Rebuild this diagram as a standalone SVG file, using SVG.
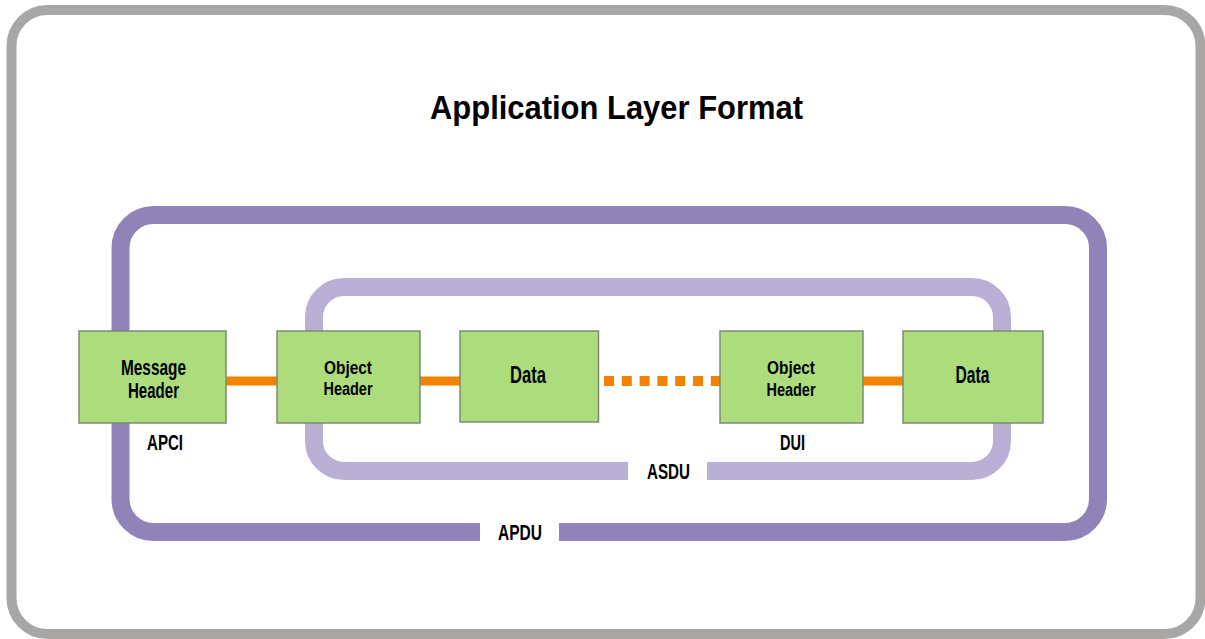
<svg xmlns="http://www.w3.org/2000/svg" width="1205" height="639" viewBox="0 0 1205 639">
<style>
.frame{fill:#ffffff;stroke:#a9a7a5;stroke-width:10}
.apdu{fill:none;stroke:#8f83b8;stroke-width:18}
.asdu{fill:none;stroke:#bab0d6;stroke-width:18}
.box{fill:#acdc7c;stroke:#7d8a72;stroke-width:1.5}
.conn{stroke:#f38200;stroke-width:9;fill:none}
.dots{stroke:#f38200;stroke-width:10;fill:none;stroke-dasharray:10 7.8}
text{font-family:"Liberation Sans",Arial,sans-serif;font-weight:bold;fill:#000;text-anchor:middle}
.t{font-size:22px}
.oh{font-size:19px}
.title{font-size:34px}
</style>
<rect class="frame" x="11.5" y="10" width="1189" height="624" rx="36"/>
<text class="title" x="616.5" y="119" textLength="373" lengthAdjust="spacingAndGlyphs">Application Layer Format</text>
<g id="apdu-frame">
<path class="apdu" d="M480,532 H153 A33,33 0 0 1 120.5,499 V248 A33,33 0 0 1 153,215 H1065 A33,33 0 0 1 1098,248 V499 A33,33 0 0 1 1065,532 H559"/>
<text class="t" x="520" y="540" textLength="44" lengthAdjust="spacingAndGlyphs">APDU</text>
</g>
<g id="asdu-frame">
<path class="asdu" d="M628,471 H344 A30,30 0 0 1 314,441 V317 A30,30 0 0 1 344,287 H972 A30,30 0 0 1 1002,317 V441 A30,30 0 0 1 972,471 H707"/>
<text class="t" x="668.5" y="479" textLength="43" lengthAdjust="spacingAndGlyphs">ASDU</text>
</g>
<g id="connectors">
<line class="conn" x1="226" y1="381" x2="277" y2="381"/>
<line class="conn" x1="420" y1="381" x2="460" y2="381"/>
<line class="dots" x1="604" y1="381" x2="721" y2="381"/>
<line class="conn" x1="863" y1="381" x2="903" y2="381"/>
</g>
<g id="message-header">
<rect class="box" x="79" y="331" width="147" height="92"/>
<text class="t" x="153.5" y="375" textLength="65" lengthAdjust="spacingAndGlyphs">Message</text>
<text class="t" x="153.5" y="398" textLength="51" lengthAdjust="spacingAndGlyphs">Header</text>
</g>
<g id="apci-label"><text class="t" x="165" y="450" textLength="36" lengthAdjust="spacingAndGlyphs">APCI</text></g>
<g id="object-header-1">
<rect class="box" x="277" y="331" width="143" height="92"/>
<text class="oh" x="348" y="373.5" textLength="48" lengthAdjust="spacingAndGlyphs">Object</text>
<text class="oh" x="348" y="395" textLength="49" lengthAdjust="spacingAndGlyphs">Header</text>
</g>
<g id="data-1">
<rect class="box" x="460" y="331" width="138.5" height="91"/>
<text class="t" x="528" y="383" textLength="36" lengthAdjust="spacingAndGlyphs" style="font-size:24px">Data</text>
</g>
<g id="object-header-2">
<rect class="box" x="720" y="331" width="143" height="92"/>
<text class="oh" x="791" y="373.5" textLength="48" lengthAdjust="spacingAndGlyphs">Object</text>
<text class="oh" x="791" y="395.5" textLength="49" lengthAdjust="spacingAndGlyphs">Header</text>
</g>
<g id="dui-label"><text class="t" x="792.5" y="450" textLength="25" lengthAdjust="spacingAndGlyphs">DUI</text></g>
<g id="data-2">
<rect class="box" x="903" y="331" width="140" height="92"/>
<text class="t" x="972.5" y="383" textLength="34" lengthAdjust="spacingAndGlyphs" style="font-size:24px">Data</text>
</g>
</svg>
